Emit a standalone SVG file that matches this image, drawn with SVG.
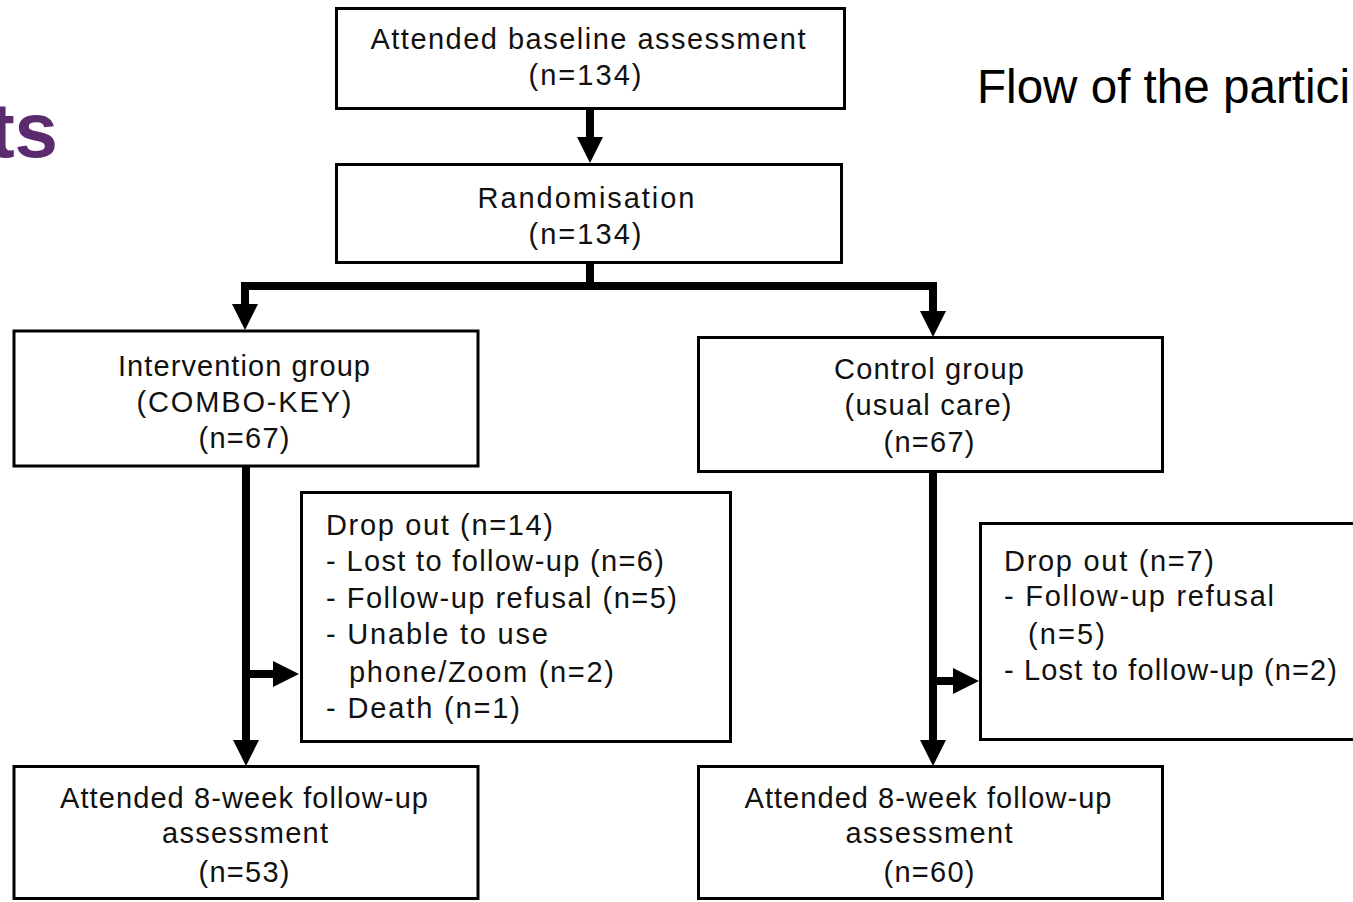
<svg xmlns="http://www.w3.org/2000/svg" width="1353" height="902" viewBox="0 0 1353 902">
<style>
.box{fill:#fff;stroke:#000;stroke-width:3}
.t{font-family:"Liberation Sans",Arial,sans-serif;font-size:29px;fill:#111}
.c{text-anchor:middle}
.conn{fill:none;stroke:#000;stroke-width:8;stroke-linejoin:miter;stroke-linecap:butt}
</style>
<defs>
<marker id="ah" markerUnits="userSpaceOnUse" markerWidth="26" markerHeight="26" viewBox="0 0 26 26" refX="0" refY="13" orient="auto" overflow="visible">
<path d="M0,0 L26,13 L0,26 z" fill="#000"/>
</marker>
</defs>
<rect width="1353" height="902" fill="#fff"/>
<text x="58" y="157" text-anchor="end" font-family="Liberation Sans,Arial,sans-serif" font-weight="bold" font-size="78" fill="#5c2a6e">ts</text>
<text x="977" y="103" font-family="Liberation Sans,Arial,sans-serif" font-size="47.6" fill="#000">Flow of the partici</text>

<g id="connectors">
<path class="conn" d="M590,109 V137" marker-end="url(#ah)"/>
<path class="conn" d="M590,263 V286 H245 V304" marker-end="url(#ah)"/>
<path class="conn" d="M590,286 H933 V311" marker-end="url(#ah)"/>
<path class="conn" d="M246,466 V740" marker-end="url(#ah)"/>
<path class="conn" d="M246,674 H273" marker-end="url(#ah)"/>
<path class="conn" d="M933,471 V740" marker-end="url(#ah)"/>
<path class="conn" d="M933,681 H953" marker-end="url(#ah)"/>
</g>

<g id="baseline">
<rect class="box" x="336.5" y="8.5" width="508" height="100"/>
<text class="t c" x="588" y="49" textLength="435" lengthAdjust="spacing">Attended baseline assessment</text>
<text class="t c" x="585" y="85" textLength="113" lengthAdjust="spacing">(n=134)</text>
</g>

<g id="randomisation">
<rect class="box" x="336.5" y="164.5" width="505" height="98"/>
<text class="t c" x="586" y="208" textLength="217" lengthAdjust="spacing">Randomisation</text>
<text class="t c" x="585" y="244" textLength="113" lengthAdjust="spacing">(n=134)</text>
</g>

<g id="intervention">
<rect class="box" x="14" y="331" width="464" height="135"/>
<text class="t c" x="244" y="376" textLength="252" lengthAdjust="spacing">Intervention group</text>
<text class="t c" x="244" y="412" textLength="215" lengthAdjust="spacing">(COMBO-KEY)</text>
<text class="t c" x="244" y="448" textLength="91" lengthAdjust="spacing">(n=67)</text>
</g>

<g id="control">
<rect class="box" x="698.5" y="337.5" width="464" height="134"/>
<text class="t c" x="929" y="379" textLength="190" lengthAdjust="spacing">Control group</text>
<text class="t c" x="928" y="415" textLength="167" lengthAdjust="spacing">(usual care)</text>
<text class="t c" x="929" y="452" textLength="91" lengthAdjust="spacing">(n=67)</text>
</g>

<g id="dropout-intervention">
<rect class="box" x="301.5" y="492.5" width="429" height="249"/>
<text class="t" x="326" y="535" textLength="227" lengthAdjust="spacing">Drop out (n=14)</text>
<text class="t" x="326" y="571" textLength="338" lengthAdjust="spacing">-  Lost to follow-up (n=6)</text>
<text class="t" x="326" y="608" textLength="351" lengthAdjust="spacing">-  Follow-up refusal (n=5)</text>
<text class="t" x="326" y="644" textLength="222" lengthAdjust="spacing">-  Unable to use</text>
<text class="t" x="349" y="682" textLength="265" lengthAdjust="spacing">phone/Zoom (n=2)</text>
<text class="t" x="326" y="718" textLength="194" lengthAdjust="spacing">-  Death (n=1)</text>
</g>

<g id="dropout-control">
<rect class="box" x="980.5" y="523.5" width="400" height="216"/>
<text class="t" x="1004" y="571" textLength="210" lengthAdjust="spacing">Drop out (n=7)</text>
<text class="t" x="1004" y="606" textLength="270" lengthAdjust="spacing">-  Follow-up refusal</text>
<text class="t" x="1028" y="644" textLength="77" lengthAdjust="spacing">(n=5)</text>
<text class="t" x="1004" y="680" textLength="333" lengthAdjust="spacing">-  Lost to follow-up (n=2)</text>
</g>

<g id="followup-intervention">
<rect class="box" x="14" y="766.5" width="464" height="132"/>
<text class="t c" x="244" y="808" textLength="368" lengthAdjust="spacing">Attended 8-week follow-up</text>
<text class="t c" x="245" y="843" textLength="166" lengthAdjust="spacing">assessment</text>
<text class="t c" x="244" y="882" textLength="91" lengthAdjust="spacing">(n=53)</text>
</g>

<g id="followup-control">
<rect class="box" x="698.5" y="766.5" width="464" height="132"/>
<text class="t c" x="928" y="808" textLength="367" lengthAdjust="spacing">Attended 8-week follow-up</text>
<text class="t c" x="929" y="843" textLength="167" lengthAdjust="spacing">assessment</text>
<text class="t c" x="929" y="882" textLength="91" lengthAdjust="spacing">(n=60)</text>
</g>
</svg>
